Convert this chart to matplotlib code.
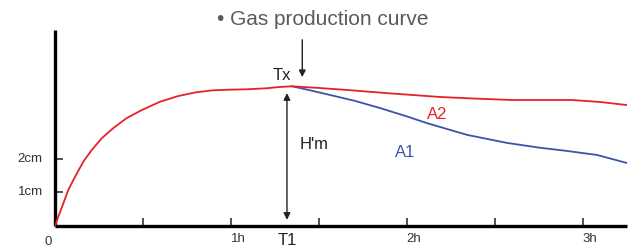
import numpy as np
import matplotlib
matplotlib.use('Agg')
import matplotlib.pyplot as plt

plt.rcParams['font.family'] = ['Liberation Sans', 'DejaVu Sans']

# gas production curve (hours, cm)
red_t = [0, 0.019, 0.047, 0.075, 0.114, 0.161, 0.209, 0.266, 0.331, 0.407, 0.493, 0.597, 0.701,
         0.80, 0.898, 1.0, 1.089, 1.2, 1.278, 1.347, 1.5, 1.659, 1.9, 2.19, 2.4, 2.6, 2.94, 3.1, 3.25]
red_h = [0, 0.28, 0.67, 1.07, 1.47, 1.92, 2.27, 2.62, 2.92, 3.22, 3.46, 3.71, 3.88,
         3.99, 4.05, 4.07, 4.08, 4.11, 4.15, 4.17, 4.12, 4.06, 3.96, 3.85, 3.80, 3.76, 3.76, 3.70, 3.61]
blue_t = [1.347, 1.45, 1.563, 1.7, 1.847, 2.0, 2.114, 2.341, 2.568, 2.75, 2.909, 3.08, 3.25]
blue_h = [4.17, 4.05, 3.91, 3.74, 3.52, 3.27, 3.07, 2.72, 2.48, 2.34, 2.24, 2.12, 1.88]

x_ticks = [0.5, 1, 1.5, 2, 2.5, 3]
x_labels = {1: '1h', 2: '2h', 3: '3h'}
y_ticks = [1, 2]
y_labels = ['1cm', '2cm']
t1 = 1.318

red = '#e8202a'
blue = '#3b54a8'

fig = plt.figure(figsize=(6.33, 2.49), dpi=100)
ax = fig.add_axes([55/633, 23/249, 572/633, 196/249])
ax.set_xlim(0, 3.25)
ax.set_ylim(0, 5.85)

ax.plot(red_t, red_h, color=red, lw=1.3, zorder=3, solid_joinstyle='round')
ax.plot(blue_t, blue_h, color=blue, lw=1.3, zorder=2, solid_joinstyle='round')

for s in ['top', 'right']:
    ax.spines[s].set_visible(False)
for s in ['left', 'bottom']:
    ax.spines[s].set_linewidth(2.4)
    ax.spines[s].set_capstyle('butt')

ax.set_xticks(x_ticks)
ax.set_xticklabels([])
ax.set_yticks(y_ticks)
ax.set_yticklabels([])
ax.tick_params(direction='in', length=6, width=1.1, color='#222222')

# tick labels, offset a bit like the original
for xv, lab in x_labels.items():
    ax.text(xv + 0.04, -0.22, lab, ha='center', va='top', fontsize=9.5, color='#333333', clip_on=False)
ax.text(-0.04, -0.3, '0', ha='center', va='top', fontsize=9.5, color='#333333', clip_on=False)
for yv, lab in zip(y_ticks, y_labels):
    ax.text(-0.07, yv, lab, ha='right', va='center', fontsize=9.5, color='#333333', clip_on=False)

# H'm double arrow at T1
ax.annotate('', xy=(t1, 4.05), xytext=(t1, 0.1),
            arrowprops=dict(arrowstyle='<|-|>', color='#222222', lw=1.0, mutation_scale=10))
ax.text(t1, -0.2, 'T1', ha='center', va='top', fontsize=12, color='#222222', clip_on=False)
ax.text(t1 + 0.07, 2.42, "H'm", ha='left', va='center', fontsize=12, color='#222222')
ax.text(t1 - 0.03, 4.5, 'Tx', ha='center', va='center', fontsize=12, color='#222222')

# arrow from the caption down to Tx
ax.annotate('', xy=(1.405, 4.36), xytext=(1.405, 5.64),
            arrowprops=dict(arrowstyle='-|>', color='#222222', lw=1.0, mutation_scale=10),
            annotation_clip=False)

ax.text(2.17, 3.33, 'A2', ha='center', va='center', fontsize=12, color=red)
ax.text(1.99, 2.18, 'A1', ha='center', va='center', fontsize=12, color=blue)

fig.text(323/633, 1 - 19/249, '\u2022 Gas production curve', ha='center', va='center',
         fontsize=15, color='#5a5a5a')

fig.savefig('out.png', dpi=100)
